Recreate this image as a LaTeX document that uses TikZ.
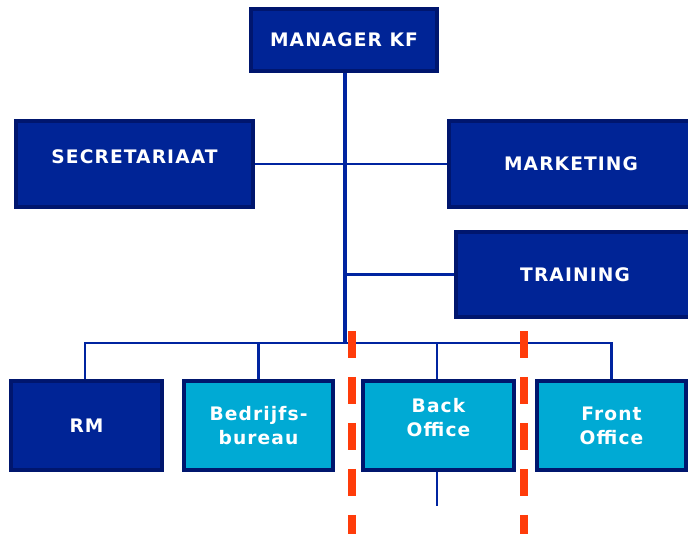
\documentclass[tikz,border=0pt]{standalone}
\usepackage{fontspec}
\setmainfont{DejaVu Sans}
\newfontfamily\boxfont[LetterSpace=6]{DejaVu Sans}
\usepackage{tikz}
\usetikzlibrary{positioning}

\definecolor{boxfill}{RGB}{0,36,150}
\definecolor{boxrim}{RGB}{0,22,110}
\definecolor{lightfill}{RGB}{0,170,212}
\definecolor{linkblue}{RGB}{0,36,160}
\definecolor{cutred}{RGB}{255,60,10}

\begin{document}
\begin{tikzpicture}[x=0.02cm,y=-0.02cm,line join=miter,
  darkbox/.style={draw=boxrim,fill=boxfill,line width=2.3pt,text=white,align=center,
    font=\boxfont\bfseries\fontsize{10.6}{13.6}\selectfont,inner sep=0pt},
  lightbox/.style={darkbox,fill=lightfill},
  boxlabel/.style={text=white,align=center,font=\boxfont\bfseries\fontsize{10.6}{13.6}\selectfont},
  trunk/.style={linkblue,line width=2.8pt},
  link/.style={linkblue,line width=1.4pt},
  cutline/.style={cutred,line width=4pt,dash pattern=on 0.54cm off 0.38cm},
]
\useasboundingbox (0,0) rectangle (688,533);
%%
  \node (node_manager) at (344,40) [darkbox,minimum width=3.72cm,minimum height=1.24cm] {MANAGER KF};

  \node (node_secr) at (134.5,164) [darkbox,minimum width=4.74cm,minimum height=1.72cm,
    label={[boxlabel,yshift=0.14cm]center:SECRETARIAAT}] {};

  \node (node_marketing) at (571,164) [darkbox,minimum width=4.88cm,minimum height=1.72cm] {MARKETING};

  \node (node_training) at (575,274.5) [darkbox,minimum width=4.76cm,minimum height=1.7cm] {TRAINING};

  \node (node_rm) at (86.5,425.5) [darkbox,minimum width=3.02cm,minimum height=1.78cm] {RM};

  \node (node_bedrijf) at (258.5,425.5) [lightbox,minimum width=2.98cm,minimum height=1.78cm] {Bedrijfs-\\bureau};

  \node (node_back) at (438.5,425.5) [lightbox,minimum width=3.02cm,minimum height=1.78cm,
    label={[boxlabel,yshift=0.16cm]center:Back\\Office}] {};

  \node (node_front) at (611.5,425.5) [lightbox,minimum width=2.98cm,minimum height=1.78cm] {Front\\Office};

  \coordinate (bus) at (345,343);
  \coordinate (back_end) at (437,506);
%
  \draw [trunk] (node_manager.south -| bus) -- (bus);
  \draw [link] (node_secr.east) -- (node_marketing.west);
  \draw [link] (node_training.west -| bus) -- (node_training.west);
  \draw [link] (node_rm.north -| 85,0) |- (bus) -| (node_front.north);
  \draw [link] (node_bedrijf.north) -- (node_bedrijf.north |- bus);
  \draw [link] (node_back.north -| back_end) -- (bus -| back_end);
  \draw [link] (node_back.south -| back_end) -- (back_end);
%
  \coordinate (cut_a) at (352,331);
  \coordinate (cut_b) at (524,331);
  \draw [cutline] (cut_a) -- (cut_a |- 0,540);
  \draw [cutline] (cut_b) -- (cut_b |- 0,540);
%
\end{tikzpicture}
\end{document}
